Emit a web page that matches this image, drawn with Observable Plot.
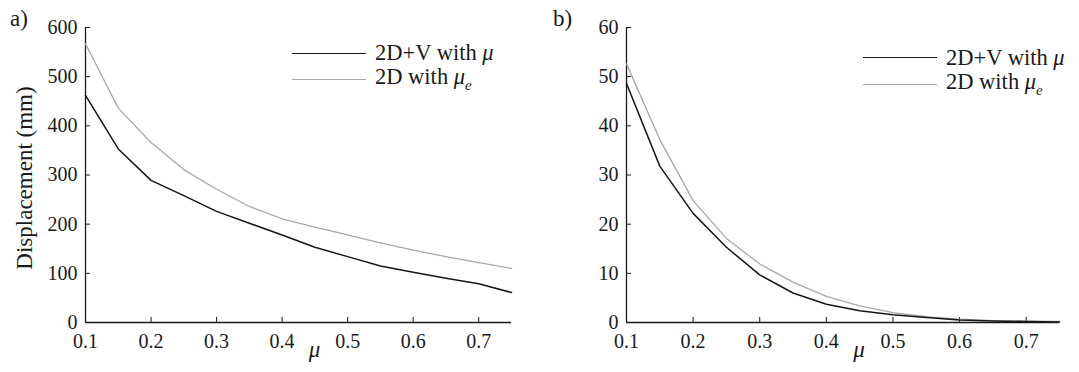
<!DOCTYPE html>
<html><head><meta charset="utf-8">
<script src="https://cdn.jsdelivr.net/npm/d3@7"></script>
<script src="https://cdn.jsdelivr.net/npm/@observablehq/plot@0.6"></script>
<style>
body{margin:0;background:#fff;font-family:"Liberation Serif","Times New Roman",Times,"DejaVu Serif",serif;color:#1a1a1a;}
#wrap{position:relative;width:1079px;height:372px;display:flex;overflow:hidden;}
.panel{position:relative;flex:none;}
.tag{position:absolute;font-size:23px;line-height:1;top:7px;}
.legend{position:absolute;font-size:22.5px;line-height:1;white-space:nowrap;}
.legend .row{display:flex;align-items:center;height:26.5px;}
.legend .sw{width:74px;margin-right:9px;}
.legend sub{font-size:15px;vertical-align:-6px;}
</style>
</head><body>
<div id="wrap"></div>
<script>
// ---- data ----
const mu = [0.1, 0.15, 0.2, 0.25, 0.3, 0.35, 0.4, 0.45, 0.5, 0.55, 0.6, 0.65, 0.7, 0.75];
// panel a) displacement (mm)
const aWithMu  = [462, 353, 289, 258, 226, 202, 178, 153, 134, 115, 102, 90, 79, 61];
const aWithMue = [567, 436, 366, 311, 271, 236, 211, 194, 178, 162, 147, 134, 122, 110];
// panel b)
const bWithMu  = [48.6, 31.8, 22.2, 15.3, 9.7, 6.0, 3.7, 2.4, 1.6, 1.0, 0.5, 0.3, 0.2, 0.1];
const bWithMue = [52.6, 37.2, 24.8, 17.1, 11.9, 8.2, 5.3, 3.4, 2.0, 1.2, 0.7, 0.4, 0.27, 0.2];
const seriesNames = ["2D+V with μ", "2D with μe"];
const seriesColors = ["#161616", "#a8a8a8"];
const xTicks = [0.1, 0.2, 0.3, 0.4, 0.5, 0.6, 0.7];
const aYTicks = [0, 100, 200, 300, 400, 500, 600];
const bYTicks = [0, 10, 20, 30, 40, 50, 60];
const panelTags = ["a)", "b)"];
const yLabel = "Displacement (mm)";
const xLabel = "μ";

const FONT = '"Liberation Serif","Times New Roman",Times,"DejaVu Serif",serif';

function makePanel(vals1, vals2, yTicks, width, marginLeft, marginRight, withYLabel) {
  const s1 = mu.map((m, i) => ({mu: m, v: vals1[i]}));
  const s2 = mu.map((m, i) => ({mu: m, v: vals2[i]}));
  return Plot.plot({
    width, height: 372,
    marginLeft, marginRight, marginTop: 27, marginBottom: 50,
    style: {fontFamily: FONT, fontSize: "20px", color: "#1a1a1a", background: "transparent", overflow: "visible"},
    x: {domain: [mu[0], mu[mu.length - 1]]},
    y: {domain: [yTicks[0], yTicks[yTicks.length - 1]]},
    marks: [
      Plot.axisX(xTicks, {tickSize: -5, tickPadding: 16, tickFormat: d3.format(".1f"), label: null, stroke: "#1a1a1a", fontFamily: FONT}),
      Plot.axisY(yTicks, {tickSize: -5, tickPadding: 13, label: null, stroke: "#1a1a1a", fontFamily: FONT}),
      Plot.ruleX([mu[0]], {stroke: "#1a1a1a", strokeWidth: 1.3}),
      Plot.ruleY([yTicks[0]], {stroke: "#1a1a1a", strokeWidth: 1.3}),
      Plot.line(s2, {x: "mu", y: "v", stroke: seriesColors[1], strokeWidth: 1.3}),
      Plot.line(s1, {x: "mu", y: "v", stroke: seriesColors[0], strokeWidth: 1.5}),
      Plot.text([xLabel], {text: d => d, frameAnchor: "bottom", dy: 34, dx: 16, fontStyle: "italic", fontSize: 23, fontFamily: FONT}),
      withYLabel ? Plot.text([yLabel], {text: d => d, frameAnchor: "left", textAnchor: "middle", rotate: -90, dx: -61, dy: 3, fontSize: 23, fontFamily: FONT}) : null
    ]
  });
}

function legendHTML(left, top) {
  const lg = document.createElement("div");
  lg.className = "legend";
  lg.style.left = left + "px";
  lg.style.top = top + "px";
  seriesNames.forEach((name, i) => {
    const row = document.createElement("div");
    row.className = "row";
    const sw = document.createElement("div");
    sw.className = "sw";
    sw.style.borderTop = (i === 0 ? 1.5 : 1.3) + "px solid " + seriesColors[i];
    const lab = document.createElement("span");
    let html = name.replace("μe", "<i>μ</i><sub><i>e</i></sub>");
    if (html === name) html = name.replace("μ", "<i>μ</i>");
    lab.innerHTML = html;
    row.appendChild(sw); row.appendChild(lab);
    lg.appendChild(row);
  });
  return lg;
}

const wrap = document.getElementById("wrap");
const configs = [
  {vals1: aWithMu, vals2: aWithMue, ticks: aYTicks, width: 540, ml: 85, mr: 29, ylab: true, legend: [292, 40], tag: 10},
  {vals1: bWithMu, vals2: bWithMue, ticks: bYTicks, width: 539, ml: 86, mr: 20, ylab: false, legend: [323, 44.5], tag: 13}
];
configs.forEach((c, k) => {
  const p = document.createElement("div");
  p.className = "panel";
  p.style.width = c.width + "px";
  p.style.height = "372px";
  p.appendChild(makePanel(c.vals1, c.vals2, c.ticks, c.width, c.ml, c.mr, c.ylab));
  const t = document.createElement("div");
  t.className = "tag";
  t.style.left = c.tag + "px";
  t.textContent = panelTags[k];
  p.appendChild(t);
  p.appendChild(legendHTML(c.legend[0], c.legend[1]));
  wrap.appendChild(p);
});
</script>
</body></html>
